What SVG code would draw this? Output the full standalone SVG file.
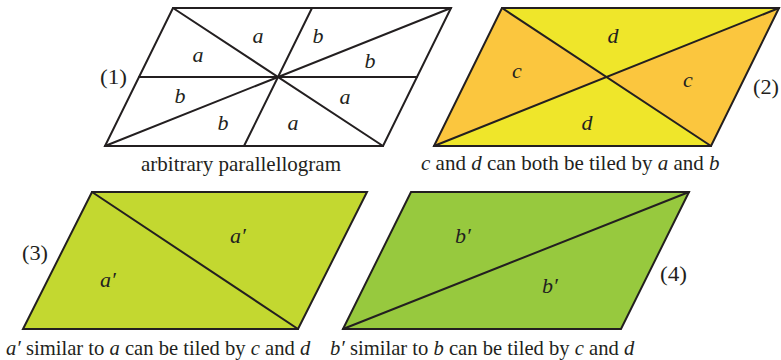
<svg xmlns="http://www.w3.org/2000/svg" width="781" height="360" viewBox="0 0 781 360">
<style>
.ln{fill:none;stroke:#231f20;stroke-width:2;stroke-linejoin:miter;stroke-linecap:round}
.t{font-family:'Liberation Serif','Times New Roman',serif;font-size:22px;fill:#231f20}
.cap{font-size:21px}
.cap2{font-size:20.6px}
.v{font-style:italic}
.m{text-anchor:middle}
</style>
<rect width="781" height="360" fill="#ffffff"/>
<g id="p1">
<polygon class="ln" points="173,8 451,8 383,146 105,146"/>
<line class="ln" x1="139" y1="77" x2="417" y2="77"/>
<line class="ln" x1="173" y1="8" x2="383" y2="146"/>
<line class="ln" x1="105" y1="146" x2="451" y2="8"/>
<line class="ln" x1="312" y1="8" x2="244" y2="146"/>
<text class="t v m" x="258" y="43">a</text>
<text class="t v m" x="318" y="43">b</text>
<text class="t v m" x="198" y="62">a</text>
<text class="t v m" x="370" y="68">b</text>
<text class="t v m" x="180" y="103">b</text>
<text class="t v m" x="345" y="104">a</text>
<text class="t v m" x="223" y="130">b</text>
<text class="t v m" x="293" y="130">a</text>
<text class="t" x="100" y="84" textLength="27" lengthAdjust="spacingAndGlyphs">(1)</text>
<text class="t cap" x="141" y="171">arbitrary parallellogram</text>
</g>
<g id="p2">
<polygon points="502,8 779,8 606.5,77" fill="#efe62a"/>
<polygon points="434,146 711,146 606.5,77" fill="#efe62a"/>
<polygon points="502,8 434,146 606.5,77" fill="#fbc63e"/>
<polygon points="779,8 711,146 606.5,77" fill="#fbc63e"/>
<polygon class="ln" points="502,8 779,8 711,146 434,146"/>
<line class="ln" x1="502" y1="8" x2="711" y2="146"/>
<line class="ln" x1="434" y1="146" x2="779" y2="8"/>
<text class="t v m" x="613" y="43">d</text>
<text class="t v m" x="517" y="78">c</text>
<text class="t v m" x="688" y="87">c</text>
<text class="t v m" x="587" y="130">d</text>
<text class="t" x="753" y="94" textLength="26" lengthAdjust="spacingAndGlyphs">(2)</text>
<text class="t cap" x="421" y="170"><tspan class="v">c</tspan> and <tspan class="v">d</tspan> can both be tiled by <tspan class="v">a</tspan> and <tspan class="v">b</tspan></text>
</g>
<g id="p3">
<polygon points="92,192 367,192 298,329 23,329" fill="#c3d830"/>
<polygon class="ln" points="92,192 367,192 298,329 23,329"/>
<line class="ln" x1="92" y1="192" x2="298" y2="329"/>
<text class="t v" x="230" y="243">a′</text>
<text class="t v" x="100" y="287">a′</text>
<text class="t" x="22" y="260" textLength="26" lengthAdjust="spacingAndGlyphs">(3)</text>
<text class="t cap2" x="6" y="355"><tspan class="v">a′</tspan> similar to <tspan class="v">a</tspan> can be tiled by <tspan class="v">c</tspan> and <tspan class="v">d</tspan></text>
</g>
<g id="p4">
<polygon points="411,192 689,192 621,329 343,329" fill="#97c93e"/>
<polygon class="ln" points="411,192 689,192 621,329 343,329"/>
<line class="ln" x1="343" y1="329" x2="689" y2="192"/>
<text class="t v" x="455" y="243">b′</text>
<text class="t v" x="542" y="293">b′</text>
<text class="t" x="660" y="281" textLength="27" lengthAdjust="spacingAndGlyphs">(4)</text>
<text class="t cap2" x="330" y="355"><tspan class="v">b′</tspan> similar to <tspan class="v">b</tspan> can be tiled by <tspan class="v">c</tspan> and <tspan class="v">d</tspan></text>
</g>
</svg>
